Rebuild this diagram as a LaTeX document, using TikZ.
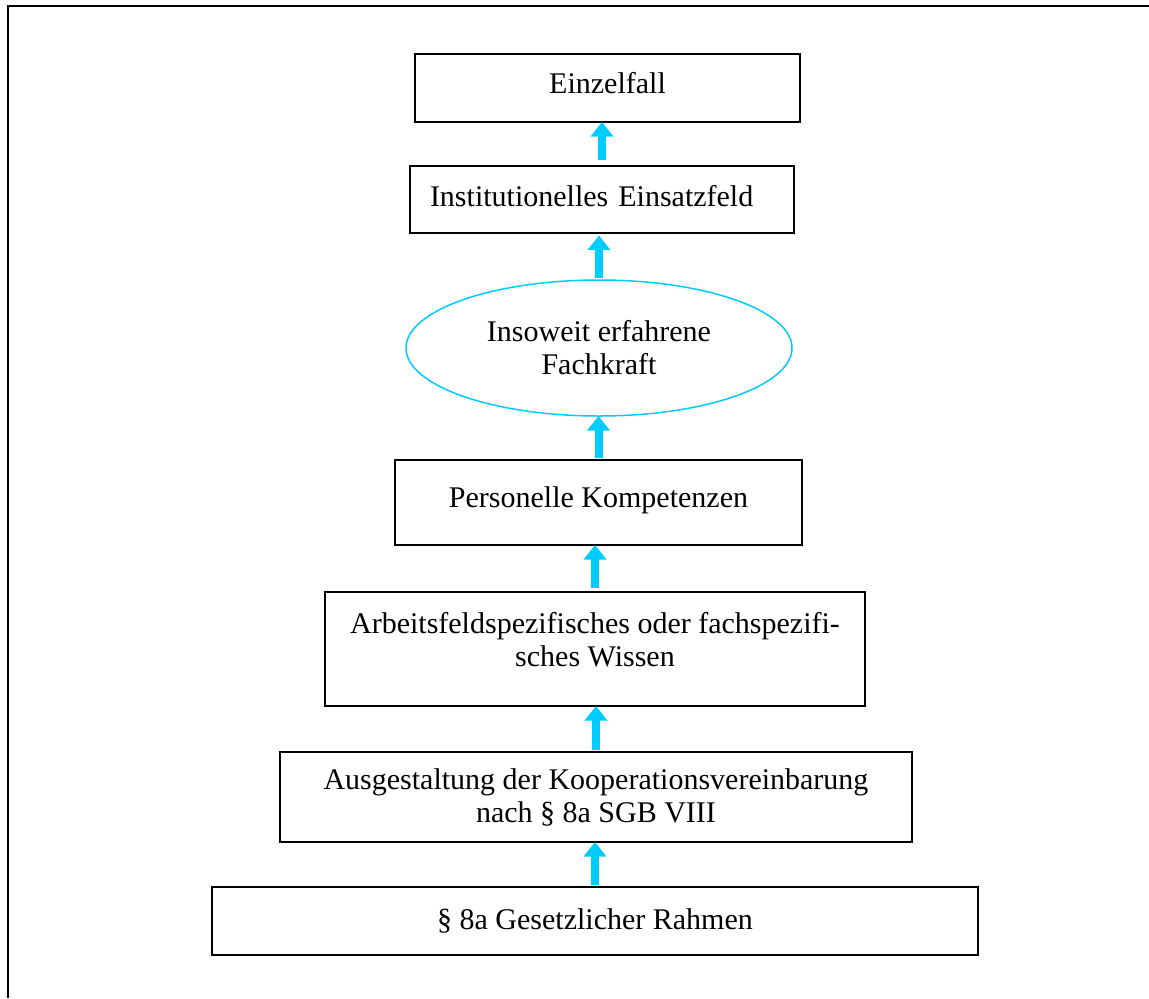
\documentclass[tikz,border=0pt]{standalone}
\usepackage{fontspec}
\setmainfont{Liberation Serif}
\usetikzlibrary{calc,shapes.geometric,arrows.meta}
\definecolor{flowcyan}{RGB}{0,204,255}

\begin{document}
\begin{tikzpicture}[inner sep=0pt,outer sep=0pt,
    every node/.style={font=\fontsize{12pt}{13.2pt}\selectfont, align=center},
    stufe/.style={draw, line width=0.6pt},
    pfeil/.style={draw=flowcyan, line width=3.2pt, -{Triangle[width=8.8pt,length=5.8pt]}, shorten <=1pt}]
    \useasboundingbox (0pt,0pt) rectangle (459.6pt,-399.2pt);

    % frame (only top and left visible)
    \draw[line width=0.8pt] (3.2pt,-399.2pt) -- (3.2pt,-2.4pt) -- (459.6pt,-2.4pt);

    % levels, top to bottom
    \node[stufe, minimum width=154pt, minimum height=27.2pt, text depth=4pt] (einzelfall)
    at (243pt,-35.2pt) {Einzelfall};

    \node[stufe, minimum width=153.6pt, minimum height=26.8pt, text depth=3.2pt,
          text width=137.6pt, align=left, inner xsep=8pt] (einsatzfeld)
    at (240.8pt,-79.8pt) {Institutionelles Einsatzfeld};

    \node[ellipse, draw=flowcyan, line width=0.6pt,
          minimum width=154.4pt, minimum height=54.4pt] (fachkraft)
    at (239.6pt,-139.2pt) {Insoweit erfahrene\\Fachkraft};

    \node[stufe, minimum width=162.8pt, minimum height=34pt, text depth=4.2pt] (kompetenzen)
    at (239.4pt,-201pt) {Personelle Kompetenzen};

    \node[stufe, minimum width=216pt, minimum height=45.6pt, text depth=8pt] (wissen)
    at (238pt,-259.6pt) {Arbeitsfeldspezifisches oder fachspezifi-\\sches Wissen};

    \node[stufe, minimum width=252.8pt, minimum height=36pt] (kooperation)
    at (238.4pt,-318.8pt) {Ausgestaltung der Kooperationsvereinbarung\\nach § 8a SGB VIII};

    \node[stufe, minimum width=306.4pt, minimum height=27.2pt] (rahmen)
    at (238pt,-368.4pt) {§ 8a Gesetzlicher Rahmen};

    % arrows
    \draw[pfeil, shorten <=2.4pt] (einsatzfeld.north) -- (einsatzfeld.north |- einzelfall.south);
    \draw[pfeil, shorten >=1pt] (fachkraft.north) -- (fachkraft.north |- einsatzfeld.south);
    \draw[pfeil] (kompetenzen.north) -- (kompetenzen.north |- fachkraft.south);
    \draw[pfeil, shorten <=1.6pt] (wissen.north) -- (wissen.north |- kompetenzen.south);
    \draw[pfeil] (kooperation.north) -- (kooperation.north |- wissen.south);
    \draw[pfeil] (rahmen.north) -- (rahmen.north |- kooperation.south);

\end{tikzpicture}
\end{document}
